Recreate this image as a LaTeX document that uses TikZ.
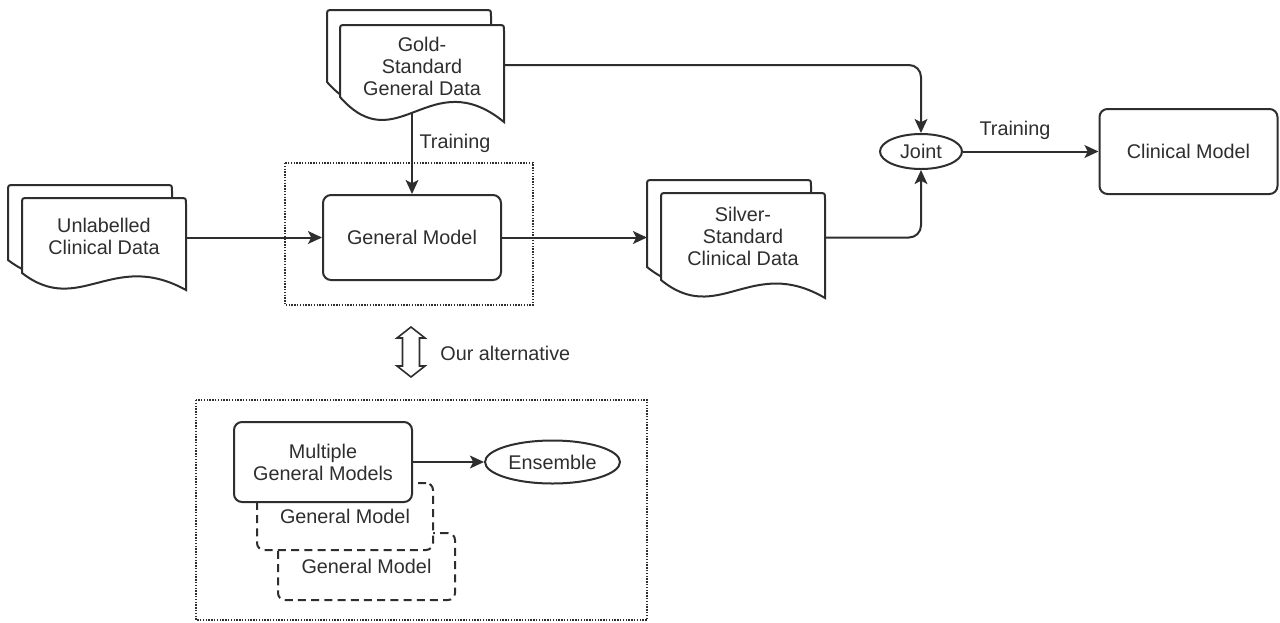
\documentclass[tikz,border=0pt]{standalone}
\usepackage{fontspec}
\setmainfont{Liberation Sans}
\usetikzlibrary{arrows.meta,shapes.geometric}
\pgfdeclarelayer{bg}
\pgfsetlayers{bg,main}
\definecolor{ink}{HTML}{2E2E2E}

% document shape with a wavy bottom edge: #1=left, #2=top, #3=right, #4=bottom-left y, #5=bottom-right y
\newcommand{\docshape}[5]{%
  \filldraw[docline] (#1,#4) -- (#1,{#2+6}) .. controls (#1,#2) .. ({#1+6},#2)
    -- ({#3-6},#2) .. controls (#3,#2) .. (#3,{#2+6}) -- (#3,#5)
    .. controls ({#1+0.55*(#3-#1)},{#4-1.4*(#5-#4)}) and ({#1+0.35*(#3-#1)},{#4+2.6*(#5-#4)}) .. (#1,#4) -- cycle;}

\tikzset{
  every node/.style={text=ink, font=\fontsize{9.9}{11}\selectfont},
  line/.style={draw=ink, line width=1pt},
  docline/.style={line, fill=white},
  box/.style={line, fill=white, rounded corners=4pt, align=center, inner sep=0pt},
  dbox/.style={line, fill=white, rounded corners=3.5pt, dash pattern=on 4pt off 2.6pt, inner sep=0pt},
  oval/.style={line, fill=white, ellipse, inner sep=0pt},
  arr/.style={line, -{Stealth[length=7pt, width=6.4pt, inset=1.6pt]}},
  frame/.style={draw=ink, line width=0.8pt, dash pattern=on 0.7pt off 0.7pt},
}

\begin{document}
\begin{tikzpicture}[x=0.5pt, y=-0.5pt]
\useasboundingbox (0,0) rectangle (1280,622);

% dotted frames
\draw[frame] (285,163) rectangle (533,305);
\draw[frame] (196,400) rectangle (647,620);

% data documents (back copy, then front copy)
\docshape{8}{185}{172}{260}{277}
\docshape{22}{198}{186}{273}{290}
\node[align=center] (unl) at (104,236) {Unlabelled\\Clinical Data};

\docshape{327}{10}{491}{82}{107}
\docshape{340}{25}{504}{97}{122}
\node[align=center] (gold) at (422,66.5) {Gold-\\Standard\\General Data};

\docshape{647}{180}{811}{267}{285}
\docshape{661}{193}{825}{280}{298}
\node[align=center] (silver) at (743,236.5) {Silver-\\Standard\\Clinical Data};

% models and junctions
\node[box, minimum width=89pt, minimum height=42.5pt] (gm) at (412,237.5) {General Model};
\node[box, minimum width=89pt, minimum height=42.5pt] (clin) at (1188.5,151.5) {Clinical Model};
\node[oval, minimum width=41pt, minimum height=17.5pt] (joint) at (921,151.5) {Joint};

% ensemble of general models
\node[dbox, minimum width=88.5pt, minimum height=33.5pt] (gmB) at (366.5,566.5) {General Model};
\node[dbox, minimum width=88pt, minimum height=33.5pt] (gmA) at (345,516.5) {General Model};
\node[box, minimum width=89pt, minimum height=40pt] (multi) at (323,462) {Multiple\\General Models};
\node[oval, minimum width=67.5pt, minimum height=21.5pt] (ens) at (552.5,462) {Ensemble};

% connection points on the documents
\coordinate (unlR) at (186,237.5);
\coordinate (goldB) at (412,90);
\coordinate (goldR) at (504,65);
\coordinate (silL) at (647,237.5);
\coordinate (silR) at (825,237.5);

% connectors
\begin{pgfonlayer}{bg}
\draw[arr] (goldB) -- (gm.north);
\end{pgfonlayer}
\draw[arr] (unlR) -- (gm.west);
\draw[arr] (gm.east) -- (silL);
\draw[arr, rounded corners=6pt] (goldR) -| (joint.north);
\draw[arr, rounded corners=6pt] (silR) -| (joint.south);
\draw[arr] (joint.east) -- (clin.west);
\draw[arr] (multi.east) -- (ens.west);

% edge labels
\node (tr1) at (455,143) {Training};
\node (tr2) at (1015,130) {Training};

% two-way arrow to the alternative
\filldraw[line, fill=white, line width=0.8pt, line join=miter]
  (411,327) -- (425,338) -- (419.5,338) -- (419.5,366) -- (425,366) -- (411,377)
  -- (397,366) -- (402.5,366) -- (402.5,338) -- (397,338) -- cycle;
\node[anchor=west, inner sep=0pt] (alt) at (440,353) {Our alternative};
\end{tikzpicture}
\end{document}
